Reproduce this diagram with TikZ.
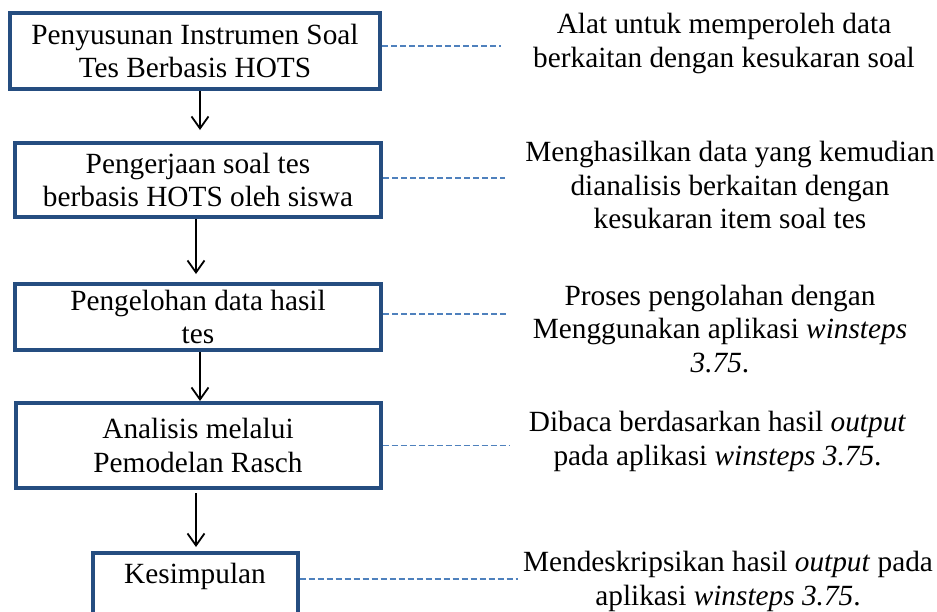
\documentclass[tikz,border=0pt]{standalone}
\usepackage{fontspec}
\setmainfont{Liberation Serif}
\usepackage{xcolor}
\usetikzlibrary{positioning,arrows.meta}
\definecolor{boxblue}{HTML}{254D80}
\definecolor{linkblue}{HTML}{4F81BD}

\begin{document}
\begin{tikzpicture}[
    x=1pt, y=-1pt,
    font=\fontsize{29.3}{33.5}\selectfont,
    box/.style={draw=boxblue, line width=4pt, align=center, minimum width=366pt, minimum height=#1},
    box/.default=74pt,
    note/.style={align=center, inner sep=0pt},
    arrow/.style={-{Straight Barb[length=12pt,width=17pt]}, line width=1.8pt},
    link/.style={draw=linkblue, line width=1.5pt, dash pattern=on 6pt off 3pt}
  ]
    \path[use as bounding box, fill=white] (0,0) rectangle (937,611);
    \node[box=76pt, minimum width=370pt] (susun) at (195,51) {Penyusunan Instrumen Soal\\Tes Berbasis HOTS};
    \node[box, below=50pt of susun, xshift=3pt] (kerja) {Pengerjaan soal tes\\berbasis HOTS oleh siswa};
    \node[box=66pt, below=63pt of kerja] (olah) {Pengelohan data hasil\\tes};
    \node[box=85pt, minimum width=365pt, below=49pt of olah] (analisis) {Analisis melalui\\Pemodelan Rasch};
    \node[box=75pt, minimum width=205pt, below=61pt of analisis, xshift=-3pt] (simpul) {Kesimpulan\\~};
    \node[note] (n1) at (724,43.5) {Alat untuk memperoleh data\\berkaitan dengan kesukaran soal};
    \node[note] (n2) at (730,185) {Menghasilkan data yang kemudian\\dianalisis berkaitan dengan\\kesukaran item soal tes};
    \node[note] (n3) at (720,329) {Proses pengolahan dengan\\Menggunakan aplikasi \textit{winsteps}\\\textit{3.75}.};
    \node[note] (n4) at (717.5,441.5) {Dibaca berdasarkan hasil \textit{output}\\pada aplikasi \textit{winsteps 3.75}.};
    \node[note] (n5) at (728,581.5) {Mendeskripsikan hasil \textit{output} pada\\aplikasi \textit{winsteps 3.75}.};
    \draw[arrow, shorten >=11pt] ([xshift=5pt]susun.south) -- ([xshift=5pt]susun.south |- kerja.north);
    \draw[arrow, shorten >=8pt] ([xshift=-2pt]kerja.south) -- ([xshift=-2pt]kerja.south |- olah.north);
    \draw[arrow] ([xshift=2pt]olah.south) -- ([xshift=2pt]olah.south |- analisis.north);
    \draw[arrow, shorten <=3pt, shorten >=4pt] ([xshift=-2pt]analisis.south) -- ([xshift=-2pt]analisis.south |- simpul.north);
    \draw[link, shorten >=32pt] ([yshift=5pt]susun.east) -- ([yshift=5pt]susun.east -| n1.west);
    \draw[link, shorten >=20pt] ([yshift=2pt]kerja.east) -- ([yshift=2pt]kerja.east -| n2.west);
    \draw[link, shorten >=25pt] ([yshift=3pt]olah.east) -- ([yshift=3pt]olah.east -| n3.west);
    \draw[link, shorten >=20pt] (analisis.east) -- (analisis.east -| n4.west);
    \draw[link, shorten >=5pt] ([yshift=11.5pt]simpul.east) -- ([yshift=11.5pt]simpul.east -| n5.west);
  \end{tikzpicture}
\end{document}
